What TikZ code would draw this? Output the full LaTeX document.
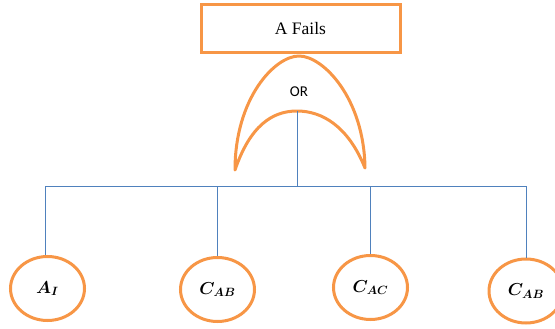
\documentclass[tikz,border=0pt]{standalone}
\usepackage{fontspec}
\usepackage{bm}
\usetikzlibrary{shapes.geometric}
\setmainfont{Liberation Serif}
\newfontfamily\gatefont{Carlito}
\definecolor{gorange}{HTML}{F79646}
\definecolor{lblue}{HTML}{4F81BD}
\tikzset{
  orangeline/.style={draw=gorange, line width=3pt},
  busline/.style={draw=lblue, line width=1pt},
  eventbox/.style={orangeline, rectangle, minimum width=199pt, minimum height=48pt, inner sep=0pt, font=\rmfamily\fontsize{17.5}{20}\selectfont},
  basic/.style={orangeline, ellipse, minimum width=74pt, minimum height=64pt, inner sep=0pt, font=\fontsize{18}{21}\selectfont}
}
\begin{document}
\begin{tikzpicture}[x=1pt,y=-1pt]
\useasboundingbox (0,0) rectangle (555,329);
% top event
\node[eventbox] (top) at (300.5,28.5) {A Fails};
% OR gate
\coordinate (gl) at (235,170);
\coordinate (gr) at (365,168);
\coordinate (gtop) at (299,56);
\coordinate (gout) at (297,111);
\draw[orangeline, line join=round]
  (gl) .. controls (235,98) and (275,56) .. (gtop)
       .. controls (323,56) and (364,98) .. (gr)
       .. controls (348,126) and (322,111) .. (gout)
       .. controls (272,111) and (250,126) .. cycle;
\node[font=\gatefont\fontsize{15}{18}\selectfont] (orlabel) at (299,92) {OR};
% basic events
\node[basic] (a1) at (47.5,288.5) {$\bm{A_I}$};
\node[basic] (cab) at (217.5,289.5) {$\bm{C_{AB}}$};
\node[basic] (cac) at (370.5,287.5) {$\bm{C_{AC}}$};
\node[basic] (cab2) at (526,291) {$\bm{C_{AB}}$};
% bus
\coordinate (bus) at (297,186);
\draw[busline] (gout) -- (bus);
\draw[busline] (a1.north -| 45,0) |- (cab2.north |- bus) -- (cab2.north);
\draw[busline] (cab.north) -- (cab.north |- bus);
\draw[busline] (cac.north) -- (cac.north |- bus);
\end{tikzpicture}
\end{document}
